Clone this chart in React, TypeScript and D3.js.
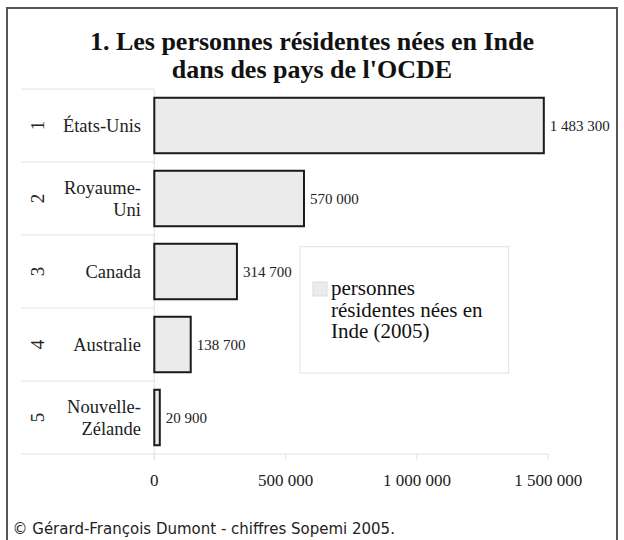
import React from "react";
import * as d3 from "d3";

const categories = ["États-Unis", "Royaume-Uni", "Canada", "Australie", "Nouvelle-Zélande"];
const categoryLines = [["États-Unis"], ["Royaume-", "Uni"], ["Canada"], ["Australie"], ["Nouvelle-", "Zélande"]];
const ranks = ["1", "2", "3", "4", "5"];
const values = [1483300, 570000, 314700, 138700, 20900];
const tickValues = [0, 500000, 1000000, 1500000];
const titleLines = ["1. Les personnes résidentes nées en Inde", "dans des pays de l'OCDE"];
const legendLines = ["personnes", "résidentes nées en", "Inde (2005)"];
const footer = "© Gérard-François Dumont - chiffres Sopemi 2005.";

const locale = d3.formatLocale({ decimal: ",", thousands: " ", grouping: [3], currency: ["", ""] });
const fmt = locale.format(",d");

const SERIF = "'Liberation Serif', 'Times New Roman', serif";
const SANS = "'DejaVu Sans', 'Liberation Sans', Arial, sans-serif";

export default function App() {
  const left = 154.3;
  const labelLeft = 21;
  const top = 89;
  const bottom = 454;
  const x = d3.scaleLinear().domain([0, 1500000]).range([left, 548.2]);
  const y = d3.scaleBand<string>().domain(categories).range([top, bottom]).paddingInner(0.24).paddingOuter(0.12);
  const step = y.step();
  const bounds = categories.map((_, i) => top + i * step);
  bounds.push(bottom);

  return (
    <svg width={624} height={540} style={{ position: "absolute", left: 0, top: 0, background: "#fff" }}>
      <rect x={0} y={0} width={624} height={540} fill="#fff" />
      <rect x={7} y={8} width={610} height={560} fill="none" stroke="#555" strokeWidth={2} />
      {titleLines.map((t, i) => (
        <text key={i} x={312} y={50 + i * 28} textAnchor="middle" fontFamily={SERIF} fontWeight="bold" fontSize={26} fill="#111">
          {t}
        </text>
      ))}
      {/* label column grid */}
      {bounds.slice(0, 5).map((b, i) => (
        <line key={i} x1={labelLeft} x2={left} y1={b} y2={b} stroke="#e2e2e2" strokeWidth={1} />
      ))}
      <line x1={labelLeft} x2={x(1500000)} y1={bottom} y2={bottom} stroke="#e2e2e2" strokeWidth={1} />
      <line x1={left} x2={left} y1={top} y2={bottom + 6} stroke="#e2e2e2" strokeWidth={1} />
      {tickValues.map((t) => (
        <g key={t}>
          <line x1={x(t)} x2={x(t)} y1={bottom} y2={bottom + 6} stroke="#e2e2e2" strokeWidth={1} />
          <text x={x(t)} y={486} textAnchor="middle" fontFamily={SERIF} fontSize={17} fill="#222">
            {fmt(t)}
          </text>
        </g>
      ))}
      {categories.map((c, i) => {
        const cy = (y(c) as number) + y.bandwidth() / 2;
        const lines = categoryLines[i];
        return (
          <g key={c}>
            <text transform={`translate(37,${cy}) rotate(-90)`} textAnchor="middle" dy="0.35em" fontFamily={SERIF} fontSize={19} fill="#222">
              {ranks[i]}
            </text>
            {lines.map((l, j) => (
              <text key={j} x={141} y={cy + (j - (lines.length - 1) / 2) * 22} dy="0.35em" textAnchor="end" fontFamily={SERIF} fontSize={18.5} fill="#222">
                {l}
              </text>
            ))}
            <rect x={x(0)} y={y(c) as number} width={x(values[i]) - x(0)} height={y.bandwidth()} fill="#ebebeb" stroke="#1a1a1a" strokeWidth={2} />
            <text x={x(values[i]) + 6} y={cy} dy="0.35em" fontFamily={SERIF} fontSize={15} fill="#222">
              {fmt(values[i])}
            </text>
          </g>
        );
      })}
      {/* legend */}
      <rect x={300} y={246.7} width={208.7} height={126.3} fill="#fff" stroke="#e2e2e2" strokeWidth={1} />
      <rect x={313} y={282} width={14} height={14} fill="#ebebeb" stroke="#dcdcdc" strokeWidth={1} />
      {legendLines.map((l, i) => (
        <text key={i} x={331} y={295 + i * 21.7} fontFamily={SERIF} fontSize={21} fill="#111">
          {l}
        </text>
      ))}
      <text x={12.5} y={534} fontFamily={SANS} fontSize={15} fill="#222">
        {footer}
      </text>
    </svg>
  );
}
